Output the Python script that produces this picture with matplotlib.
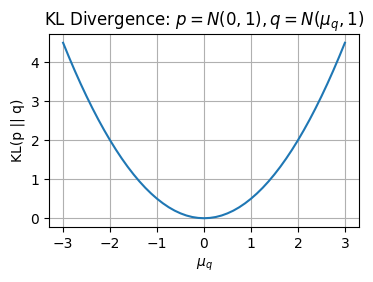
import matplotlib
matplotlib.use("Agg")
import matplotlib.pyplot as plt

mu_q = [-3.0, -2.875, -2.75, -2.625, -2.5, -2.375, -2.25, -2.125, -2.0, -1.875,
        -1.75, -1.625, -1.5, -1.375, -1.25, -1.125, -1.0, -0.875, -0.75, -0.625,
        -0.5, -0.375, -0.25, -0.125, 0.0, 0.125, 0.25, 0.375, 0.5, 0.625,
        0.75, 0.875, 1.0, 1.125, 1.25, 1.375, 1.5, 1.625, 1.75, 1.875,
        2.0, 2.125, 2.25, 2.375, 2.5, 2.625, 2.75, 2.875, 3.0]
kl = [4.5, 4.133, 3.781, 3.445, 3.125, 2.82, 2.531, 2.258, 2.0, 1.758,
      1.531, 1.32, 1.125, 0.945, 0.781, 0.633, 0.5, 0.383, 0.281, 0.195,
      0.125, 0.07, 0.031, 0.008, 0.0, 0.008, 0.031, 0.07, 0.125, 0.195,
      0.281, 0.383, 0.5, 0.633, 0.781, 0.945, 1.125, 1.32, 1.531, 1.758,
      2.0, 2.258, 2.531, 2.82, 3.125, 3.445, 3.781, 4.133, 4.5]

fig = plt.figure(figsize=(3.73, 2.82), dpi=100)
ax = fig.add_axes([49/373, 1 - 227/282, 310/373, 193/282])
ax.plot(mu_q, kl, color="#1f77b4", linewidth=1.5)
ax.set_title(r"KL Divergence: $p = N(0, 1), q = N(\mu_q, 1)$")
ax.set_xlabel(r"$\mu_q$")
ax.set_ylabel("KL(p || q)")
ax.grid(True)
fig.savefig("out.png", dpi=100)
